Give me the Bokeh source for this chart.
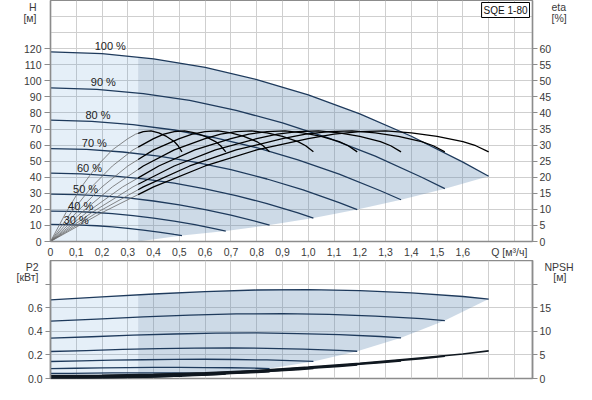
import numpy as np
from bokeh.plotting import figure
from bokeh.models import Range1d, LinearAxis, FixedTicker, CustomJSTickFormatter, Label
from bokeh.layouts import column
from bokeh.embed import file_html
from bokeh.resources import INLINE

# ---------------- data ----------------
speed_labels = ["100 %", "90 %", "80 %", "70 %", "60 %", "50 %", "40 %", "30 %"]

# flow points of each speed curve [m3/h]
q_100 = [0, 0.2, 0.4, 0.6, 0.8, 1.0, 1.2, 1.4, 1.6, 1.7]
q_90 = [0, 0.18, 0.36, 0.54, 0.72, 0.9, 1.08, 1.26, 1.44, 1.53]
q_80 = [0, 0.16, 0.32, 0.48, 0.64, 0.8, 0.96, 1.12, 1.28, 1.36]
q_70 = [0, 0.14, 0.28, 0.42, 0.56, 0.7, 0.84, 0.98, 1.12, 1.19]
q_60 = [0, 0.12, 0.24, 0.36, 0.48, 0.6, 0.72, 0.84, 0.96, 1.02]
q_50 = [0, 0.1, 0.2, 0.3, 0.4, 0.5, 0.6, 0.7, 0.8, 0.85]
q_40 = [0, 0.08, 0.16, 0.24, 0.32, 0.4, 0.48, 0.56, 0.64, 0.68]
q_30 = [0, 0.06, 0.12, 0.18, 0.24, 0.3, 0.36, 0.42, 0.48, 0.51]

# head H [m]
h_100 = [118, 116.9, 113.7, 108.4, 100.8, 91.2, 79.4, 65.5, 49.4, 40.6]
h_90 = [95.6, 94.7, 92.1, 87.8, 81.6, 73.9, 64.3, 53.1, 40.0, 32.9]
h_80 = [75.5, 74.8, 72.8, 69.4, 64.5, 58.4, 50.8, 41.9, 31.6, 26.0]
h_70 = [57.8, 57.3, 55.7, 53.1, 49.4, 44.7, 38.9, 32.1, 24.2, 19.9]
h_60 = [42.5, 42.1, 40.9, 39.0, 36.3, 32.8, 28.6, 23.6, 17.8, 14.6]
h_50 = [29.5, 29.2, 28.4, 27.1, 25.2, 22.8, 19.9, 16.4, 12.4, 10.2]
h_40 = [18.9, 18.7, 18.2, 17.3, 16.1, 14.6, 12.7, 10.5, 7.9, 6.5]
h_30 = [10.6, 10.5, 10.2, 9.8, 9.1, 8.2, 7.1, 5.9, 4.4, 3.7]

# shaft power P2 [kW]
p2_100 = [0.667, 0.692, 0.716, 0.737, 0.750, 0.754, 0.745, 0.725, 0.695, 0.673]
p2_90 = [0.486, 0.504, 0.522, 0.537, 0.547, 0.550, 0.543, 0.529, 0.507, 0.491]
p2_80 = [0.342, 0.354, 0.367, 0.377, 0.384, 0.386, 0.381, 0.371, 0.356, 0.345]
p2_70 = [0.229, 0.237, 0.246, 0.253, 0.257, 0.259, 0.256, 0.249, 0.238, 0.231]
p2_60 = [0.144, 0.150, 0.155, 0.159, 0.162, 0.163, 0.161, 0.157, 0.150, 0.145]
p2_50 = [0.083, 0.087, 0.090, 0.092, 0.094, 0.094, 0.093, 0.091, 0.087, 0.084]
p2_40 = [0.043, 0.044, 0.046, 0.047, 0.048, 0.048, 0.048, 0.046, 0.044, 0.043]
p2_30 = [0.018, 0.019, 0.019, 0.020, 0.020, 0.020, 0.020, 0.020, 0.019, 0.018]

# NPSH [m]
npsh_100 = [0.6, 0.7, 0.9, 1.2, 1.7, 2.4, 3.2, 4.2, 5.2, 5.85]
npsh_90 = [0.49, 0.57, 0.73, 0.97, 1.38, 1.94, 2.59, 3.40, 4.21, 4.74]
npsh_80 = [0.38, 0.45, 0.58, 0.77, 1.09, 1.54, 2.05, 2.69, 3.33, 3.74]
npsh_70 = [0.29, 0.34, 0.44, 0.59, 0.83, 1.18, 1.57, 2.06, 2.55, 2.87]
npsh_60 = [0.22, 0.25, 0.32, 0.43, 0.61, 0.86, 1.15, 1.51, 1.87, 2.11]
npsh_50 = [0.15, 0.18, 0.23, 0.30, 0.43, 0.60, 0.80, 1.05, 1.30, 1.46]
npsh_40 = [0.10, 0.11, 0.14, 0.19, 0.27, 0.38, 0.51, 0.67, 0.83, 0.94]
npsh_30 = [0.05, 0.06, 0.08, 0.11, 0.15, 0.22, 0.29, 0.38, 0.47, 0.53]

# efficiency curves: flow points per speed, eta values [%]
eta_q_100 = [0, 0.2, 0.4, 0.6, 0.8, 1.0, 1.1, 1.2, 1.3, 1.4, 1.5, 1.6, 1.65, 1.7]
eta_q_90 = [0, 0.18, 0.36, 0.54, 0.72, 0.9, 0.99, 1.08, 1.17, 1.26, 1.35, 1.44, 1.485, 1.53]
eta_q_80 = [0, 0.16, 0.32, 0.48, 0.64, 0.8, 0.88, 0.96, 1.04, 1.12, 1.2, 1.28, 1.32, 1.36]
eta_q_70 = [0, 0.14, 0.28, 0.42, 0.56, 0.7, 0.77, 0.84, 0.91, 0.98, 1.05, 1.12, 1.155, 1.19]
eta_q_60 = [0, 0.12, 0.24, 0.36, 0.48, 0.6, 0.66, 0.72, 0.78, 0.84, 0.9, 0.96, 0.99, 1.02]
eta_q_50 = [0, 0.1, 0.2, 0.3, 0.4, 0.5, 0.55, 0.6, 0.65, 0.7, 0.75, 0.8, 0.825, 0.85]
eta_q_40 = [0, 0.08, 0.16, 0.24, 0.32, 0.4, 0.44, 0.48, 0.52, 0.56, 0.6, 0.64, 0.66, 0.68]
eta_q_30 = [0, 0.06, 0.12, 0.18, 0.24, 0.3, 0.33, 0.36, 0.39, 0.42, 0.45, 0.48, 0.495, 0.51]
eta_pct = [0, 9, 17, 23.5, 28.5, 32, 33.4, 34.2, 34.4, 33.8, 32.7, 31.1, 29.8, 27.9]

q_sets = [q_100, q_90, q_80, q_70, q_60, q_50, q_40, q_30]
h_sets = [h_100, h_90, h_80, h_70, h_60, h_50, h_40, h_30]
p2_sets = [p2_100, p2_90, p2_80, p2_70, p2_60, p2_50, p2_40, p2_30]
npsh_sets = [npsh_100, npsh_90, npsh_80, npsh_70, npsh_60, npsh_50, npsh_40, npsh_30]
eta_q_sets = [eta_q_100, eta_q_90, eta_q_80, eta_q_70, eta_q_60, eta_q_50, eta_q_40, eta_q_30]

x_ticks = [0, 0.1, 0.2, 0.3, 0.4, 0.5, 0.6, 0.7, 0.8, 0.9, 1.0, 1.1, 1.2, 1.3, 1.4, 1.5, 1.6]
h_ticks = [0, 10, 20, 30, 40, 50, 60, 70, 80, 90, 100, 110, 120]
eta_ticks = [0, 5, 10, 15, 20, 25, 30, 35, 40, 45, 50, 55, 60]
p2_ticks = [0, 0.2, 0.4, 0.6, 0.8]
npsh_ticks = [0, 5, 10, 15, 20]

# ---------------- styling / layout constants ----------------
X_MAX = 1.87
H_MAX = 150
ETA_MAX = 75
LIGHT_Q = 0.34          # limit of the light-shaded zone
FONT = "Liberation Sans"
NAVY = "#1e3a5c"
GRID = "#cfcfcf"
AXIS = "#8c8c8c"
TXT = "#3a3a3a"
W = 576


def split_at(qs, vs, cut):
    qs = np.asarray(qs, float)
    vs = np.asarray(vs, float)
    vcut = float(np.interp(cut, qs, vs))
    m = qs < cut
    r = qs > cut
    left = (list(qs[m]) + [cut], list(vs[m]) + [vcut])
    right = ([cut] + list(qs[r]), [vcut] + list(vs[r]))
    return left, right


def style_axis(ax, size="10.5px"):
    ax.axis_line_color = AXIS
    ax.axis_line_width = 1.5
    ax.major_tick_line_color = AXIS
    ax.minor_tick_line_color = None
    ax.major_tick_in = 0
    ax.major_label_text_font = FONT
    ax.major_label_text_font_size = size
    ax.major_label_text_color = TXT


def title_axis(p, side, range_name, ticks, code, standoff):
    ax = LinearAxis(y_range_name=range_name, ticker=FixedTicker(ticks=ticks),
                    formatter=CustomJSTickFormatter(code=code))
    ax.axis_line_color = None
    ax.major_tick_line_color = None
    ax.minor_tick_line_color = None
    ax.major_tick_out = 0
    ax.major_tick_in = 0
    ax.major_label_standoff = standoff
    ax.major_label_text_font = FONT
    ax.major_label_text_font_size = "10.5px"
    ax.major_label_text_color = TXT
    p.add_layout(ax, side)


# ---------------- top chart: H and eta ----------------
top = figure(width=W, height=260, x_range=Range1d(0, X_MAX), y_range=Range1d(0, H_MAX),
             output_backend="svg", toolbar_location=None,
             min_border_left=50, min_border_right=36, min_border_top=0, min_border_bottom=18)
top.extra_y_ranges = {"eta": Range1d(0, ETA_MAX)}
top.outline_line_color = AXIS
top.outline_line_width = 1.2

top.xaxis.ticker = FixedTicker(ticks=x_ticks + [1.78])
top.xaxis.formatter = CustomJSTickFormatter(code="""
if (tick > 1.7) { return 'Q [м³/ч]'; }
return tick == 0 ? '0' : tick.toFixed(1).replace('.', ',');
""")
style_axis(top.xaxis[0])
top.xaxis.major_tick_out = 0
top.xaxis.major_label_standoff = 4

top.yaxis.ticker = FixedTicker(ticks=h_ticks)
style_axis(top.yaxis[0])
top.yaxis.major_tick_out = 6
top.yaxis.major_label_standoff = 3

eta_axis = LinearAxis(y_range_name="eta", ticker=FixedTicker(ticks=eta_ticks))
style_axis(eta_axis)
eta_axis.major_tick_out = 5
eta_axis.major_label_standoff = 2
top.add_layout(eta_axis, "right")

title_axis(top, "left", "default", [147.6, 139.4], "return tick > 145 ? 'H' : '[м]';", -16)
title_axis(top, "right", "eta", [73.6, 69.7], "return tick > 72 ? 'eta' : '[%]';", -3)

top.xgrid.ticker = FixedTicker(ticks=[t / 10 for t in range(1, 19)])
top.ygrid.ticker = FixedTicker(ticks=list(range(10, 150, 10)))
top.xgrid.grid_line_color = GRID
top.ygrid.grid_line_color = GRID

# shaded areas
(lq, lv), (rq, rv) = split_at(q_100, h_100, LIGHT_Q)
top.patch(lq + [LIGHT_Q, 0], lv + [0, 0], fill_color="#4a90d0", fill_alpha=0.14, line_color=None)
ends_q = [qs[-1] for qs in q_sets[1:]]
ends_h = [hs[-1] for hs in h_sets[1:]]
top.patch(rq + ends_q + [LIGHT_Q], rv + ends_h + [0],
          fill_color="#5b86b0", fill_alpha=0.30, line_color=None)

# H curves
for qs, hs in zip(q_sets, h_sets):
    top.line(qs, hs, line_color=NAVY, line_width=1.3)

# efficiency curves
for eq in eta_q_sets:
    (lq, lv), (rq, rv) = split_at(eq, eta_pct, LIGHT_Q)
    top.line(lq, lv, y_range_name="eta", line_color="#6a6a6a", line_width=0.8)
    top.line(rq, rv, y_range_name="eta", line_color="black", line_width=1.3)

# speed labels
pct_q = [0.232, 0.205, 0.184, 0.170, 0.151, 0.136, 0.117, 0.100]
pct_h = [121.5, 99.5, 78.7, 61.2, 45.8, 32.6, 22.0, 13.3]
for t, x, y in zip(speed_labels, pct_q, pct_h):
    top.add_layout(Label(x=x, y=y, text=t, text_font=FONT, text_font_size="11px",
                         text_color="#222222", text_align="center", text_baseline="middle"))

top.add_layout(Label(x=X_MAX, y=H_MAX, text="SQE 1-80", text_font=FONT, text_font_size="10px",
                     text_color="#111111", text_align="right", text_baseline="top",
                     x_offset=-3, y_offset=-2, border_line_color="black", border_line_width=1,
                     background_fill_color="white", padding=2))

# ---------------- bottom chart: P2 and NPSH ----------------
bot = figure(width=W, height=124, x_range=Range1d(0, X_MAX), y_range=Range1d(0, 1.0),
             output_backend="svg", toolbar_location=None,
             min_border_left=50, min_border_right=36, min_border_top=0, min_border_bottom=6)
bot.extra_y_ranges = {"npsh": Range1d(0, 25)}
bot.outline_line_color = AXIS
bot.outline_line_width = 1.5
bot.xaxis.visible = False

bot.yaxis.ticker = FixedTicker(ticks=p2_ticks)
bot.yaxis.formatter = CustomJSTickFormatter(code="return tick > 0.7 ? '' : tick.toFixed(1);")
style_axis(bot.yaxis[0])
bot.yaxis.major_tick_out = 5
bot.yaxis.major_label_standoff = 3

npsh_axis = LinearAxis(y_range_name="npsh", ticker=FixedTicker(ticks=npsh_ticks))
npsh_axis.formatter = CustomJSTickFormatter(code="return tick > 17 ? '' : tick.toFixed(0);")
style_axis(npsh_axis)
npsh_axis.major_tick_out = 5
npsh_axis.major_label_standoff = 2
bot.add_layout(npsh_axis, "right")

title_axis(bot, "left", "default", [0.957, 0.862], "return tick > 0.9 ? 'P2' : '[кВт]';", -14)
title_axis(bot, "right", "npsh", [24.0, 21.6],
           "return tick > 23 ? 'NPSH' : '\u00a0\u00a0\u00a0[м]';", -10)

bot.xgrid.ticker = FixedTicker(ticks=[t / 10 for t in range(1, 19)])
bot.ygrid.ticker = FixedTicker(ticks=[0.2, 0.4, 0.6, 0.8])
bot.xgrid.grid_line_color = GRID
bot.ygrid.grid_line_color = GRID

(lq, lv), (rq, rv) = split_at(q_100, p2_100, LIGHT_Q)
bot.patch(lq + [LIGHT_Q, 0], lv + [0, 0], fill_color="#4a90d0", fill_alpha=0.14, line_color=None)
ends_p = [ps[-1] for ps in p2_sets[1:]]
bot.patch(rq + ends_q + [LIGHT_Q], rv + ends_p + [0],
          fill_color="#5b86b0", fill_alpha=0.30, line_color=None)

for qs, ps in zip(q_sets, p2_sets):
    bot.line(qs, ps, line_color=NAVY, line_width=1.3)
for qs, ns in zip(q_sets, npsh_sets):
    bot.line(qs, ns, y_range_name="npsh", line_color="#101820", line_width=1.6)

layout = column(top, bot, spacing=0)
open("out.html", "w", encoding="utf-8").write(file_html(layout, INLINE))
